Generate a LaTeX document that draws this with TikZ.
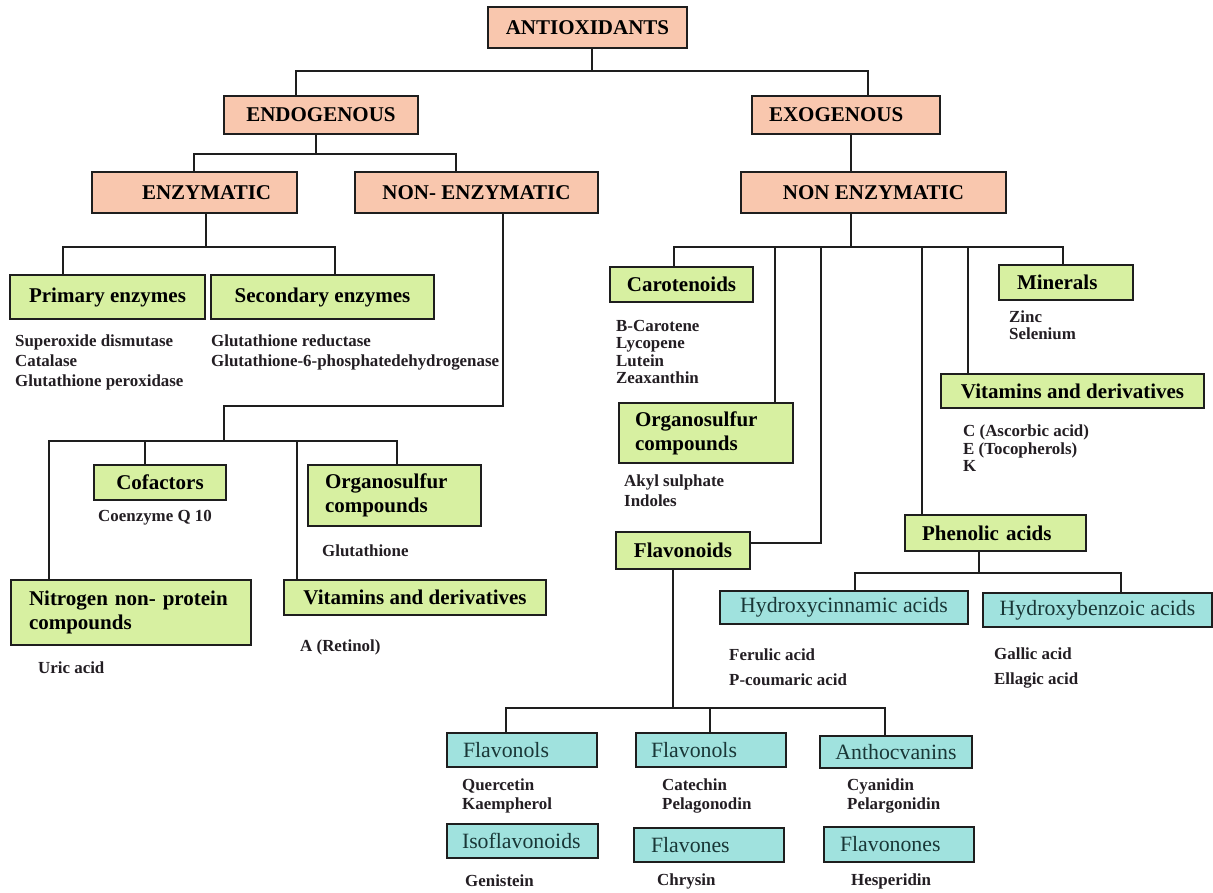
\documentclass[tikz,border=0pt]{standalone}
\usepackage{fontspec}
\setmainfont{Liberation Serif}
\definecolor{peach}{RGB}{249,199,174}
\definecolor{lgreen}{RGB}{215,240,161}
\definecolor{lteal}{RGB}{160,226,222}
\definecolor{linec}{RGB}{30,30,30}
\definecolor{listc}{RGB}{35,30,35}
\definecolor{tealtext}{RGB}{25,55,55}
\tikzset{
  box/.style={draw=linec, line width=1.8pt, inner sep=0pt, anchor=center},
  salmon/.style={box, fill=peach, font=\fontsize{21}{24}\selectfont\bfseries},
  grn/.style={box, fill=lgreen, font=\fontsize{21}{24}\selectfont\bfseries},
  tl/.style={box, fill=lteal, text=tealtext, font=\fontsize{21.8}{24}\selectfont},
  lst/.style={anchor=west, inner sep=0pt, align=left, text=listc, font=\fontsize{16.9}{#1}\selectfont\bfseries},
  lst/.default=20,
  conn/.style={draw=linec, line width=1.8pt},
}
% centred box: name, style, x1, y1, x2, y2, text
\newcommand\bx[7]{%
  \pgfmathsetmacro\bxw{#5-#3}\pgfmathsetmacro\bxh{#6-#4}%
  \pgfmathsetmacro\bxx{(#3+#5)/2}\pgfmathsetmacro\bxy{(#4+#6)/2}%
  \node[#2, minimum width=\bxw pt, minimum height=\bxh pt] (#1) at (\bxx,\bxy) {#7};}
% left-aligned box: name, style, x1, y1, x2, y2, left padding, text
\newcommand\bxl[8]{%
  \pgfmathsetmacro\bxw{#5-#3-2*#7}\pgfmathsetmacro\bxh{#6-#4}%
  \pgfmathsetmacro\bxx{(#3+#5)/2}\pgfmathsetmacro\bxy{(#4+#6)/2}%
  \node[#2, align=left, inner xsep=#7pt, text width=\bxw pt, minimum height=\bxh pt] (#1) at (\bxx,\bxy) {#8};}
\begin{document}
\begin{tikzpicture}[x=1pt,y=-1pt]
\path[use as bounding box, fill=white] (0,0) rectangle (1213,892);

% ---------- salmon boxes
\bx{anti}{salmon}{488}{7}{687}{48}{ANTIOXIDANTS}
\bx{endo}{salmon}{224}{96}{418}{134}{ENDOGENOUS}
\bxl{exo}{salmon}{752}{96}{940}{134}{17}{EXOGENOUS}
\bxl{enz}{salmon}{92}{172}{297}{213}{50}{ENZYMATIC}
\bx{nenz}{salmon}{355}{172}{598}{213}{NON- ENZYMATIC}
\bx{nenzx}{salmon}{741}{172}{1006}{213}{NON ENZYMATIC}

% ---------- green boxes
\bx{prim}{grn}{10}{275}{205}{319}{Primary enzymes}
\bx{sec}{grn}{211}{275}{434}{319}{Secondary enzymes}
\bx{cof}{grn}{94}{465}{226}{500}{Cofactors}
\bxl{orgL}{grn}{308}{465}{481}{526}{17}{Organosulfur\\compounds}
\bxl{nitro}{grn}{11}{580}{251}{645}{18}{Nitrogen non- protein\\compounds}
\bx{vitL}{grn}{284}{580}{546}{615}{Vitamins and derivatives}
\bx{caro}{grn}{610}{267}{753}{302}{Carotenoids}
\bxl{orgR}{grn}{619}{403}{793}{463}{16}{Organosulfur\\compounds}
\bx{flav}{grn}{616}{532}{750}{569}{Flavonoids}
\bxl{mine}{grn}{999}{265}{1133}{300}{18}{Minerals}
\bx{vitR}{grn}{941}{374}{1204}{408}{Vitamins and derivatives}
\bxl{phen}{grn}{905}{515}{1086}{551}{17}{Phenolic acids}

% ---------- teal boxes
\bx{hcin}{tl}{720}{591}{968}{624}{Hydroxycinnamic acids}
\bx{hben}{tl}{983}{593}{1212}{627}{Hydroxybenzoic acids}
\bxl{fla}{tl}{447}{733}{597}{767}{16}{Flavonols}
\bxl{flb}{tl}{636}{733}{786}{767}{15}{Flavonols}
\bx{anth}{tl}{820}{736}{972}{768}{Anthocvanins}
\bxl{iso}{tl}{447}{824}{598}{858}{15}{Isoflavonoids}
\bxl{flvn}{tl}{634}{828}{784}{862}{17}{Flavones}
\bxl{flvnn}{tl}{824}{827}{974}{862}{16}{Flavonones}

% ---------- lists
\node[lst] (lprim) at (15,362) {Superoxide dismutase\\Catalase\\Glutathione peroxidase};
\node[lst] (lsec) at (211,352) {Glutathione reductase\\Glutathione-6-phosphatedehydrogenase};
\node[lst] (lcof) at (98,518) {Coenzyme Q 10};
\node[lst] (lorgL) at (322,551) {Glutathione};
\node[lst] (lnitro) at (38,668) {Uric acid};
\node[lst] (lvitL) at (300,647) {A (Retinol)};
\node[lst=17.3] (lcaro) at (616,352) {B-Carotene\\Lycopene\\Lutein\\Zeaxanthin};
\node[lst] (lorgR) at (624,491) {Akyl sulphate\\Indoles};
\node[lst=17] (lmine) at (1009,325.5) {Zinc\\Selenium};
\node[lst=17.5] (lvitR) at (963,448.5) {C (Ascorbic acid)\\E (Tocopherols)\\K};
\node[lst=25] (lhcin) at (729,667.5) {Ferulic acid\\P-coumaric acid};
\node[lst=25] (lhben) at (994,667.5) {Gallic acid\\Ellagic acid};
\node[lst=19] (lfla) at (462,795.5) {Quercetin\\Kaempherol};
\node[lst=19] (lflb) at (662,795.5) {Catechin\\Pelagonodin};
\node[lst=19] (lanth) at (847,795.5) {Cyanidin\\Pelargonidin};
\node[lst] (liso) at (465,881) {Genistein};
\node[lst] (lflvn) at (657,881) {Chrysin};
\node[lst] (lflvnn) at (851,881) {Hesperidin};

% ---------- connectors
\coordinate (jA) at (592,71);
\draw[conn] (anti.south -| jA) -- (jA);
\draw[conn] (endo.north -| 296,0) |- (jA) -| (exo.north -| 868,0);

\coordinate (jB) at (316,154);
\draw[conn] (endo.south -| jB) -- (jB);
\draw[conn] (enz.north -| 194,0) |- (jB) -| (nenz.north -| 456,0);

\coordinate (jC) at (206,247);
\draw[conn] (enz.south -| jC) -- (jC);
\draw[conn] (prim.north -| 63,0) |- (jC) -| (sec.north -| 335,0);

\coordinate (jD) at (224,406);
\coordinate (jE) at (224,441);
\coordinate (jE1) at (145,441);
\coordinate (jE2) at (297,441);
\draw[conn] (nenz.south -| 503,0) |- (jD) -- (jE);
\draw[conn] (nitro.north -| 49,0) |- (jE) -| (orgL.north -| 397,0);
\draw[conn] (cof.north -| jE1) -- (jE1);
\draw[conn] (vitL.north -| jE2) -- (jE2);

\draw[conn] (exo.south -| 851,0) -- (nenzx.north -| 851,0);
\coordinate (jG) at (851,247);
\coordinate (jG1) at (775,247);
\coordinate (jG2) at (821,247);
\coordinate (jG3) at (922,247);
\coordinate (jG4) at (968,247);
\draw[conn] (nenzx.south -| jG) -- (jG);
\draw[conn] (caro.north -| 674,0) |- (jG) -| (mine.north -| 1063,0);
\draw[conn] (orgR.north -| jG1) -- (jG1);
\draw[conn] (flav.east |- 0,543) -| (jG2);
\draw[conn] (phen.north -| jG3) -- (jG3);
\draw[conn] (vitR.north -| jG4) -- (jG4);

\coordinate (jH) at (979,573);
\draw[conn] (phen.south -| jH) -- (jH);
\draw[conn] (hcin.north -| 855,0) |- (jH) -| (hben.north -| 1121,0);

\coordinate (jI) at (673,708);
\coordinate (jI2) at (710,708);
\draw[conn] (flav.south -| jI) -- (jI);
\draw[conn] (fla.north -| 506,0) |- (jI) -| (anth.north -| 885,0);
\draw[conn] (flb.north -| jI2) -- (jI2);
\end{tikzpicture}
\end{document}
